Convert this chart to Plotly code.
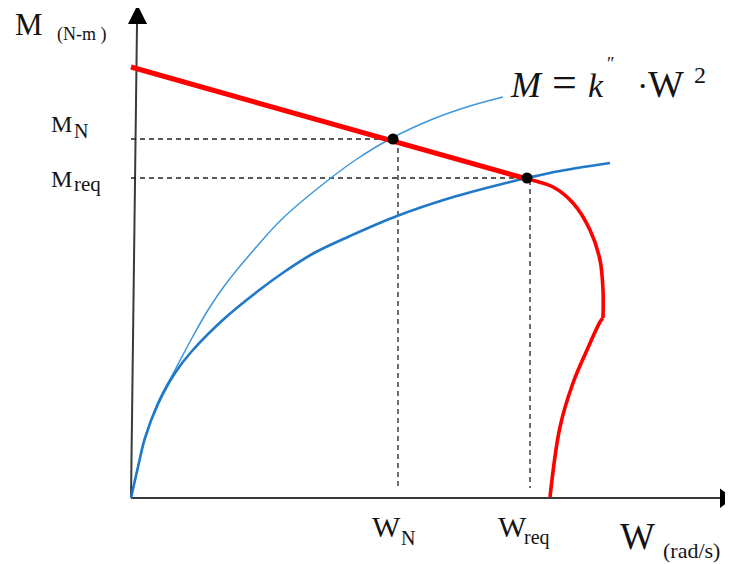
import plotly.graph_objects as go

# ---------------- data (units: W along x, M along y; origin at the axes corner) ----------------
# Thin blue curve  M = k'' * W^2 characteristic
thin_W = [0, 7, 14, 27, 44, 61, 77, 94, 121, 152, 196, 226, 259, 302, 339, 372]
thin_M = [0, 31, 60, 96, 128, 160, 188, 213, 246, 280, 317, 339, 359, 379, 392, 401]

# Thick blue curve (required load characteristic)
thick_W = [0, 7, 14, 27, 44, 61, 94, 127, 156, 183, 219, 266, 319, 379, 396, 429, 479]
thick_M = [0, 31, 60, 94, 125, 147, 180, 207, 228, 245, 262, 282, 300, 316, 320, 327, 335]

# Red motor characteristic: straight part, upper curved part, lower part
red_line_W = [0, 396]
red_line_M = [431, 319]
red_up_W = [396, 422, 442, 459, 469, 472, 472]
red_up_M = [319, 311, 295, 268, 238, 208, 180]
red_low_W = [472, 469, 456, 442, 429, 419]
red_low_M = [180, 176, 148, 115, 71, 1]

# Operating points
W_N, M_N = 262, 359
W_req, M_req = 396, 320
vline_N = 267
vline_req = 399

# Axes
yaxis_W = [0, 6]
yaxis_M = [0, 474]
xaxis_W = [0, 590]
xaxis_M = [0, 0]
arrow_up_W = [-3, 16, 6.5, -3]
arrow_up_M = [474, 474, 493, 474]
arrow_right_W = [589, 589, 602, 589]
arrow_right_M = [9.5, -10, -0.25, 9.5]

fig = go.Figure()


def line(W, M, color, width, dash=None, shape="linear"):
    fig.add_trace(go.Scatter(
        x=W, y=M, mode="lines",
        line=dict(color=color, width=width, dash=dash, shape=shape),
        hoverinfo="skip", showlegend=False))


# axes
line(yaxis_W, yaxis_M, "#3a3a3a", 2)
line(xaxis_W, xaxis_M, "#3a3a3a", 2)
for aw, am in [(arrow_up_W, arrow_up_M), (arrow_right_W, arrow_right_M)]:
    fig.add_trace(go.Scatter(x=aw, y=am, mode="lines", fill="toself",
                             fillcolor="black", line=dict(width=0, color="black"),
                             hoverinfo="skip", showlegend=False))

# dashed guides
dash = "5px,4px"
line([0, W_N], [M_N, M_N], "#222", 1.3, dash)
line([vline_N, vline_N], [M_N, 8], "#222", 1.3, dash)
line([0, W_req], [M_req, M_req], "#222", 1.3, dash)
line([vline_req, vline_req], [M_req - 2, 10], "#222", 1.3, dash)

# blue curves
line(thin_W, thin_M, "#3d97dc", 1.5, shape="spline")
line(thick_W, thick_M, "#1f78c8", 2.6, shape="spline")

# red curves
line(red_line_W, red_line_M, "#ff0000", 5)
line(red_up_W, red_up_M, "#ff0000", 3.6, shape="spline")
line(red_low_W, red_low_M, "#ff0000", 3.6, shape="spline")

# points
fig.add_trace(go.Scatter(x=[W_N, W_req], y=[M_N, M_req], mode="markers",
                         marker=dict(size=11, color="black"),
                         hoverinfo="skip", showlegend=False))

# ---------------- labels ----------------
X0, Y0 = 131, 498  # page position of the axes corner


def label(text, left_px, base_px, size, color="#141414", pad=1):
    fig.add_annotation(
        x=left_px - X0 - 1 - pad, y=Y0 - (base_px + 0.216 * size + 1 + pad),
        xref="x", yref="y", text=text, showarrow=False,
        xanchor="left", yanchor="bottom", borderpad=pad,
        font=dict(family="Liberation Serif", size=size, color=color))


label("M", 15, 35, 31, pad=0)
label("(N-m )", 57, 41, 18)
label("M", 51, 132, 24)
label("N", 74, 138, 20)
label("M", 51, 187, 24)
label("req", 74, 191, 21)
label("W", 372, 537, 30)
label("N", 401, 545, 20)
label("W", 498, 537, 30)
label("req", 524, 545, 20)
label("W", 620, 549, 37)
label("(rad/s)", 663, 558, 22)
# equation M = k'' · W^2
label("<i>M</i>", 510, 97, 36)
label("=", 552, 97, 44)
label("<i>k</i>", 588, 97, 34)
label("″", 607, 70, 18)
label("·", 637, 97, 34)
label("W", 648, 97, 38)
label("2", 694, 83, 24)

fig.update_layout(
    width=733, height=564, autosize=False,
    margin=dict(l=0, r=0, t=0, b=0),
    paper_bgcolor="white", plot_bgcolor="white",
    # the page body adds an 8px margin, so the ranges are shifted to compensate
    xaxis=dict(range=[-123, 610], visible=False, fixedrange=True),
    yaxis=dict(range=[-74, 490], visible=False, fixedrange=True),
    showlegend=False,
)

fig.write_html("out.html")
